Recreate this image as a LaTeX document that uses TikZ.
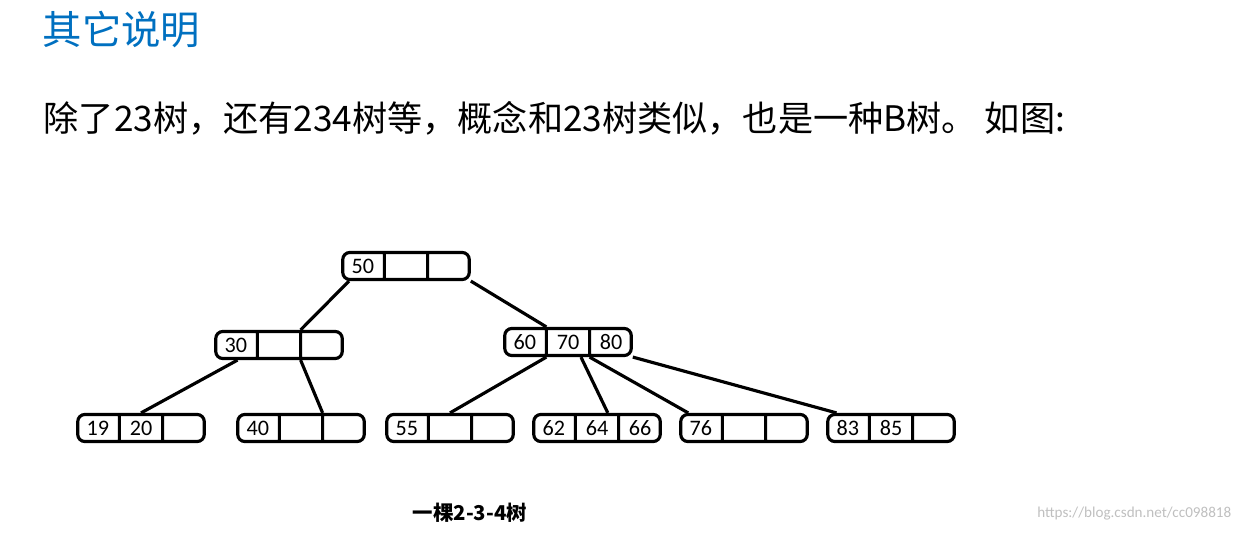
\documentclass[tikz,border=0pt]{standalone}
\usepackage{fontspec}
\setmainfont{Carlito}
\newfontfamily\cjk{Noto Sans CJK SC}
\usetikzlibrary{shapes.multipart,calc}
\definecolor{headblue}{RGB}{0,112,192}
\newcommand{\cell}[1]{\makebox[0.33cm]{#1}}
\tikzset{
    bnode/.style={rectangle split, rectangle split horizontal, rectangle split parts=3,
        rectangle split ignore empty parts=false, draw, line width=0.9pt, rounded corners=2pt,
        inner xsep=1pt, inner ysep=0pt, minimum height=0.27cm, font=\fontsize{6.3}{7}\selectfont},
    link/.style={line width=0.9pt}
}
\begin{document}
\begin{tikzpicture}[x=0.01cm, y=-0.01cm]
    \useasboundingbox (0,0) rectangle (1239,533);
    % texts
    \node[anchor=west, inner sep=0, text=headblue, font=\cjk\fontsize{11.2}{13}\selectfont] (title) at (42,30) {其它说明};
    \node[anchor=west, inner sep=0, font=\cjk\fontsize{10}{12}\selectfont] (intro) at (43,118) {除了23树，还有234树等，概念和23树类似，也是一种B树。 如图:};
    % top layer
    \node[bnode] (root) at (406,266) {\cell{50}\nodepart{two}\cell{}\nodepart{three}\cell{}};
    % middle layer
    \node[bnode] (n30) at (279,345) {\cell{30}\nodepart{two}\cell{}\nodepart{three}\cell{}};
    \node[bnode] (n60) at (568,342) {\cell{60}\nodepart{two}\cell{70}\nodepart{three}\cell{80}};
    % leaves
    \node[bnode] (n19) at (141,428) {\cell{19}\nodepart{two}\cell{20}\nodepart{three}\cell{}};
    \node[bnode] (n40) at (301,428) {\cell{40}\nodepart{two}\cell{}\nodepart{three}\cell{}};
    \node[bnode] (n55) at (450,428) {\cell{55}\nodepart{two}\cell{}\nodepart{three}\cell{}};
    \node[bnode] (n62) at (597,428) {\cell{62}\nodepart{two}\cell{64}\nodepart{three}\cell{66}};
    \node[bnode] (n76) at (744,428) {\cell{76}\nodepart{two}\cell{}\nodepart{three}\cell{}};
    \node[bnode] (n83) at (891,428) {\cell{83}\nodepart{two}\cell{85}\nodepart{three}\cell{}};
    % links
    \draw[link] ($(root.south west)!0.06!(root.south east)$) -- (n30.two split north);
    \draw[link] (root.south east) -- (n60.one split north);
    \draw[link] ($(n30.south west)!0.18!(n30.south east)$) -- (n19.two north);
    \draw[link] (n30.two split south) -- (n40.two split north);
    \draw[link] (n60.one split south) -- (n55.two north);
    \draw[link] ($(n60.one split south)!0.8!(n60.two split south)$) -- ($(n62.two north)!0.5!(n62.two split north)$);
    \draw[link] (n60.two split south) -- ($(n76.north west)!0.07!(n76.north east)$);
    \draw[link] (n60.south east) -- ($(n83.north west)!0.08!(n83.north east)$);
    % caption
    \node[inner sep=0, font=\cjk\bfseries\fontsize{5.8}{7}\selectfont] (caption) at (470,513) {一棵2-3-4树};
    \node[anchor=east, inner sep=0, text=black!25, font=\fontsize{4.3}{5}\selectfont] (mark) at (1232,514) {https://blog.csdn.net/cc098818};
\end{tikzpicture}
\end{document}
